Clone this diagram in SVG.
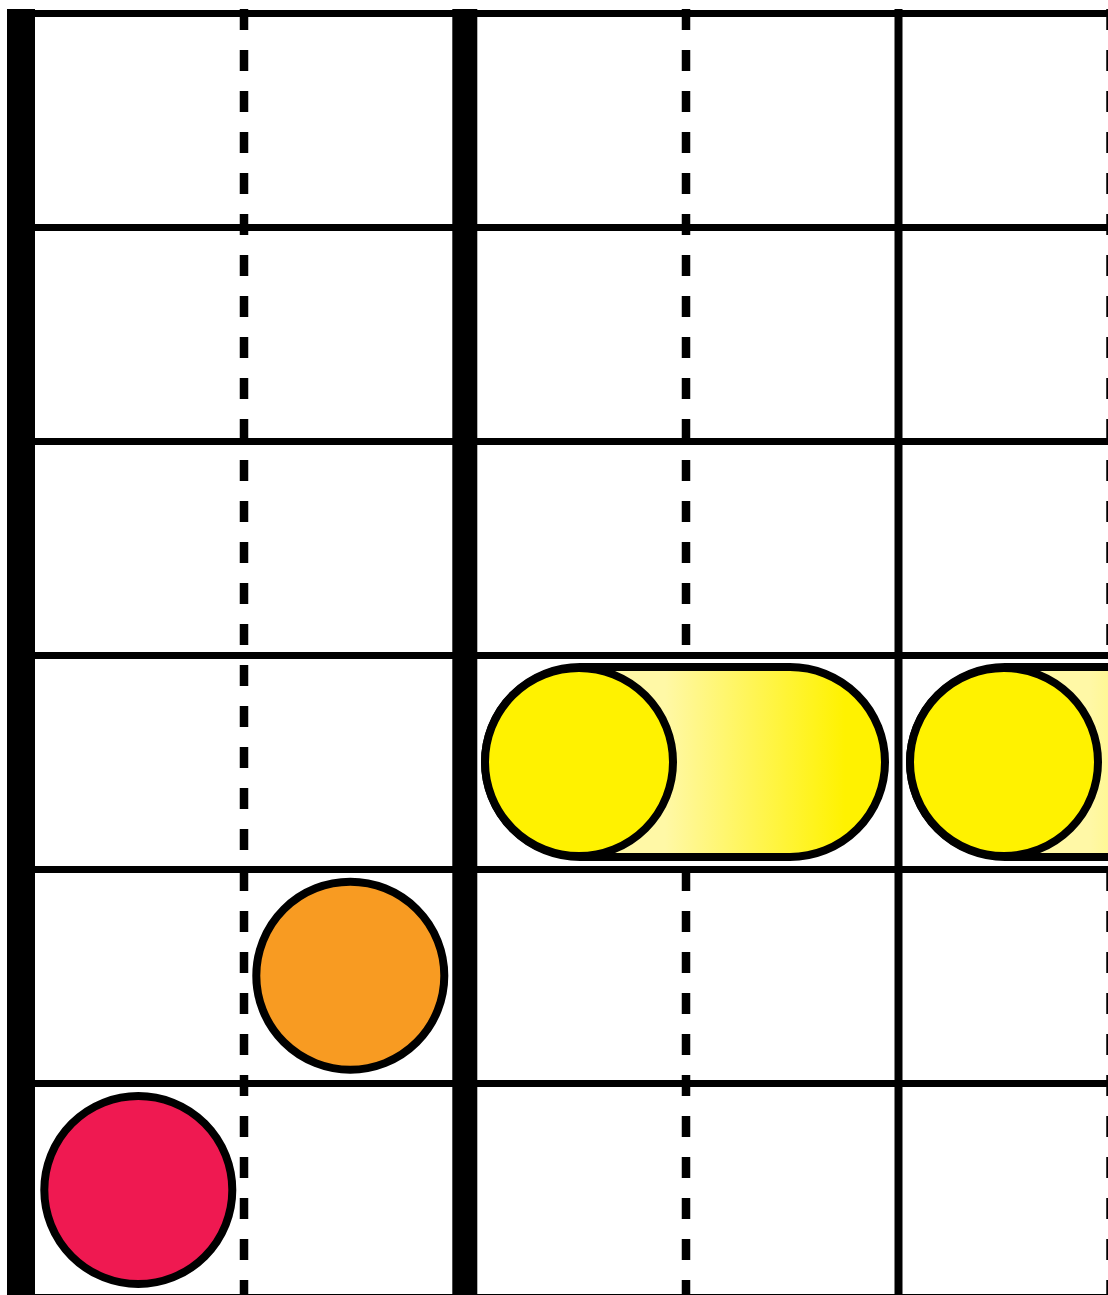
<svg xmlns="http://www.w3.org/2000/svg" width="1108" height="1295" viewBox="0 0 1108 1295">
  <defs>
    <linearGradient id="capGrad" x1="0" y1="0" x2="1" y2="0">
      <stop offset="0.45" stop-color="#FFF8A6"/>
      <stop offset="0.9" stop-color="#FFF200"/>
    </linearGradient>
    <style>
      .h { stroke:#000; stroke-width:7; fill:none; }
      .v { stroke:#000; fill:none; }
      .dash { stroke:#000; stroke-width:8.5; stroke-dasharray:21 20; fill:none; }
      .ball { stroke:#000; stroke-width:8; }
      .cap { stroke:#000; stroke-width:8; fill:url(#capGrad); }
    </style>
  </defs>
  <rect width="1108" height="1295" fill="#fff"/>
  <g id="grid">
    <line class="h" x1="7" y1="13.5" x2="1108" y2="13.5"/>
    <line class="h" x1="7" y1="227.5" x2="1108" y2="227.5"/>
    <line class="h" x1="7" y1="441.5" x2="1108" y2="441.5"/>
    <line class="h" x1="7" y1="655.5" x2="1108" y2="655.5"/>
    <line class="h" x1="7" y1="869.5" x2="1108" y2="869.5"/>
    <line class="h" x1="7" y1="1083.5" x2="1108" y2="1083.5"/>
    <line class="h" x1="7" y1="1297.5" x2="1108" y2="1297.5"/>
    <line class="dash" x1="244" y1="9" x2="244" y2="1300"/>
    <line class="dash" x1="686" y1="9" x2="686" y2="1300"/>
    <line class="dash" x1="1110.5" y1="9" x2="1110.5" y2="1300"/>
    <line class="v" x1="21" y1="9" x2="21" y2="1300" stroke-width="28"/>
    <line class="v" x1="464.8" y1="9" x2="464.8" y2="1300" stroke-width="25"/>
    <line class="v" x1="898.5" y1="9" x2="898.5" y2="1300" stroke-width="8"/>
  </g>
  <g id="capsule1">
    <rect class="cap" x="485" y="667" width="400" height="190" rx="95" ry="95"/>
    <circle class="ball" cx="579" cy="762" r="94" fill="#FFF200"/>
  </g>
  <g id="capsule2">
    <rect class="cap" x="910" y="667" width="400" height="190" rx="95" ry="95"/>
    <circle class="ball" cx="1004" cy="762" r="94" fill="#FFF200"/>
  </g>
  <g id="orange">
    <circle class="ball" cx="350.3" cy="975.7" r="94" fill="#F89B22"/>
  </g>
  <g id="red">
    <circle class="ball" cx="138.3" cy="1190" r="94" fill="#EF1951"/>
  </g>
</svg>
